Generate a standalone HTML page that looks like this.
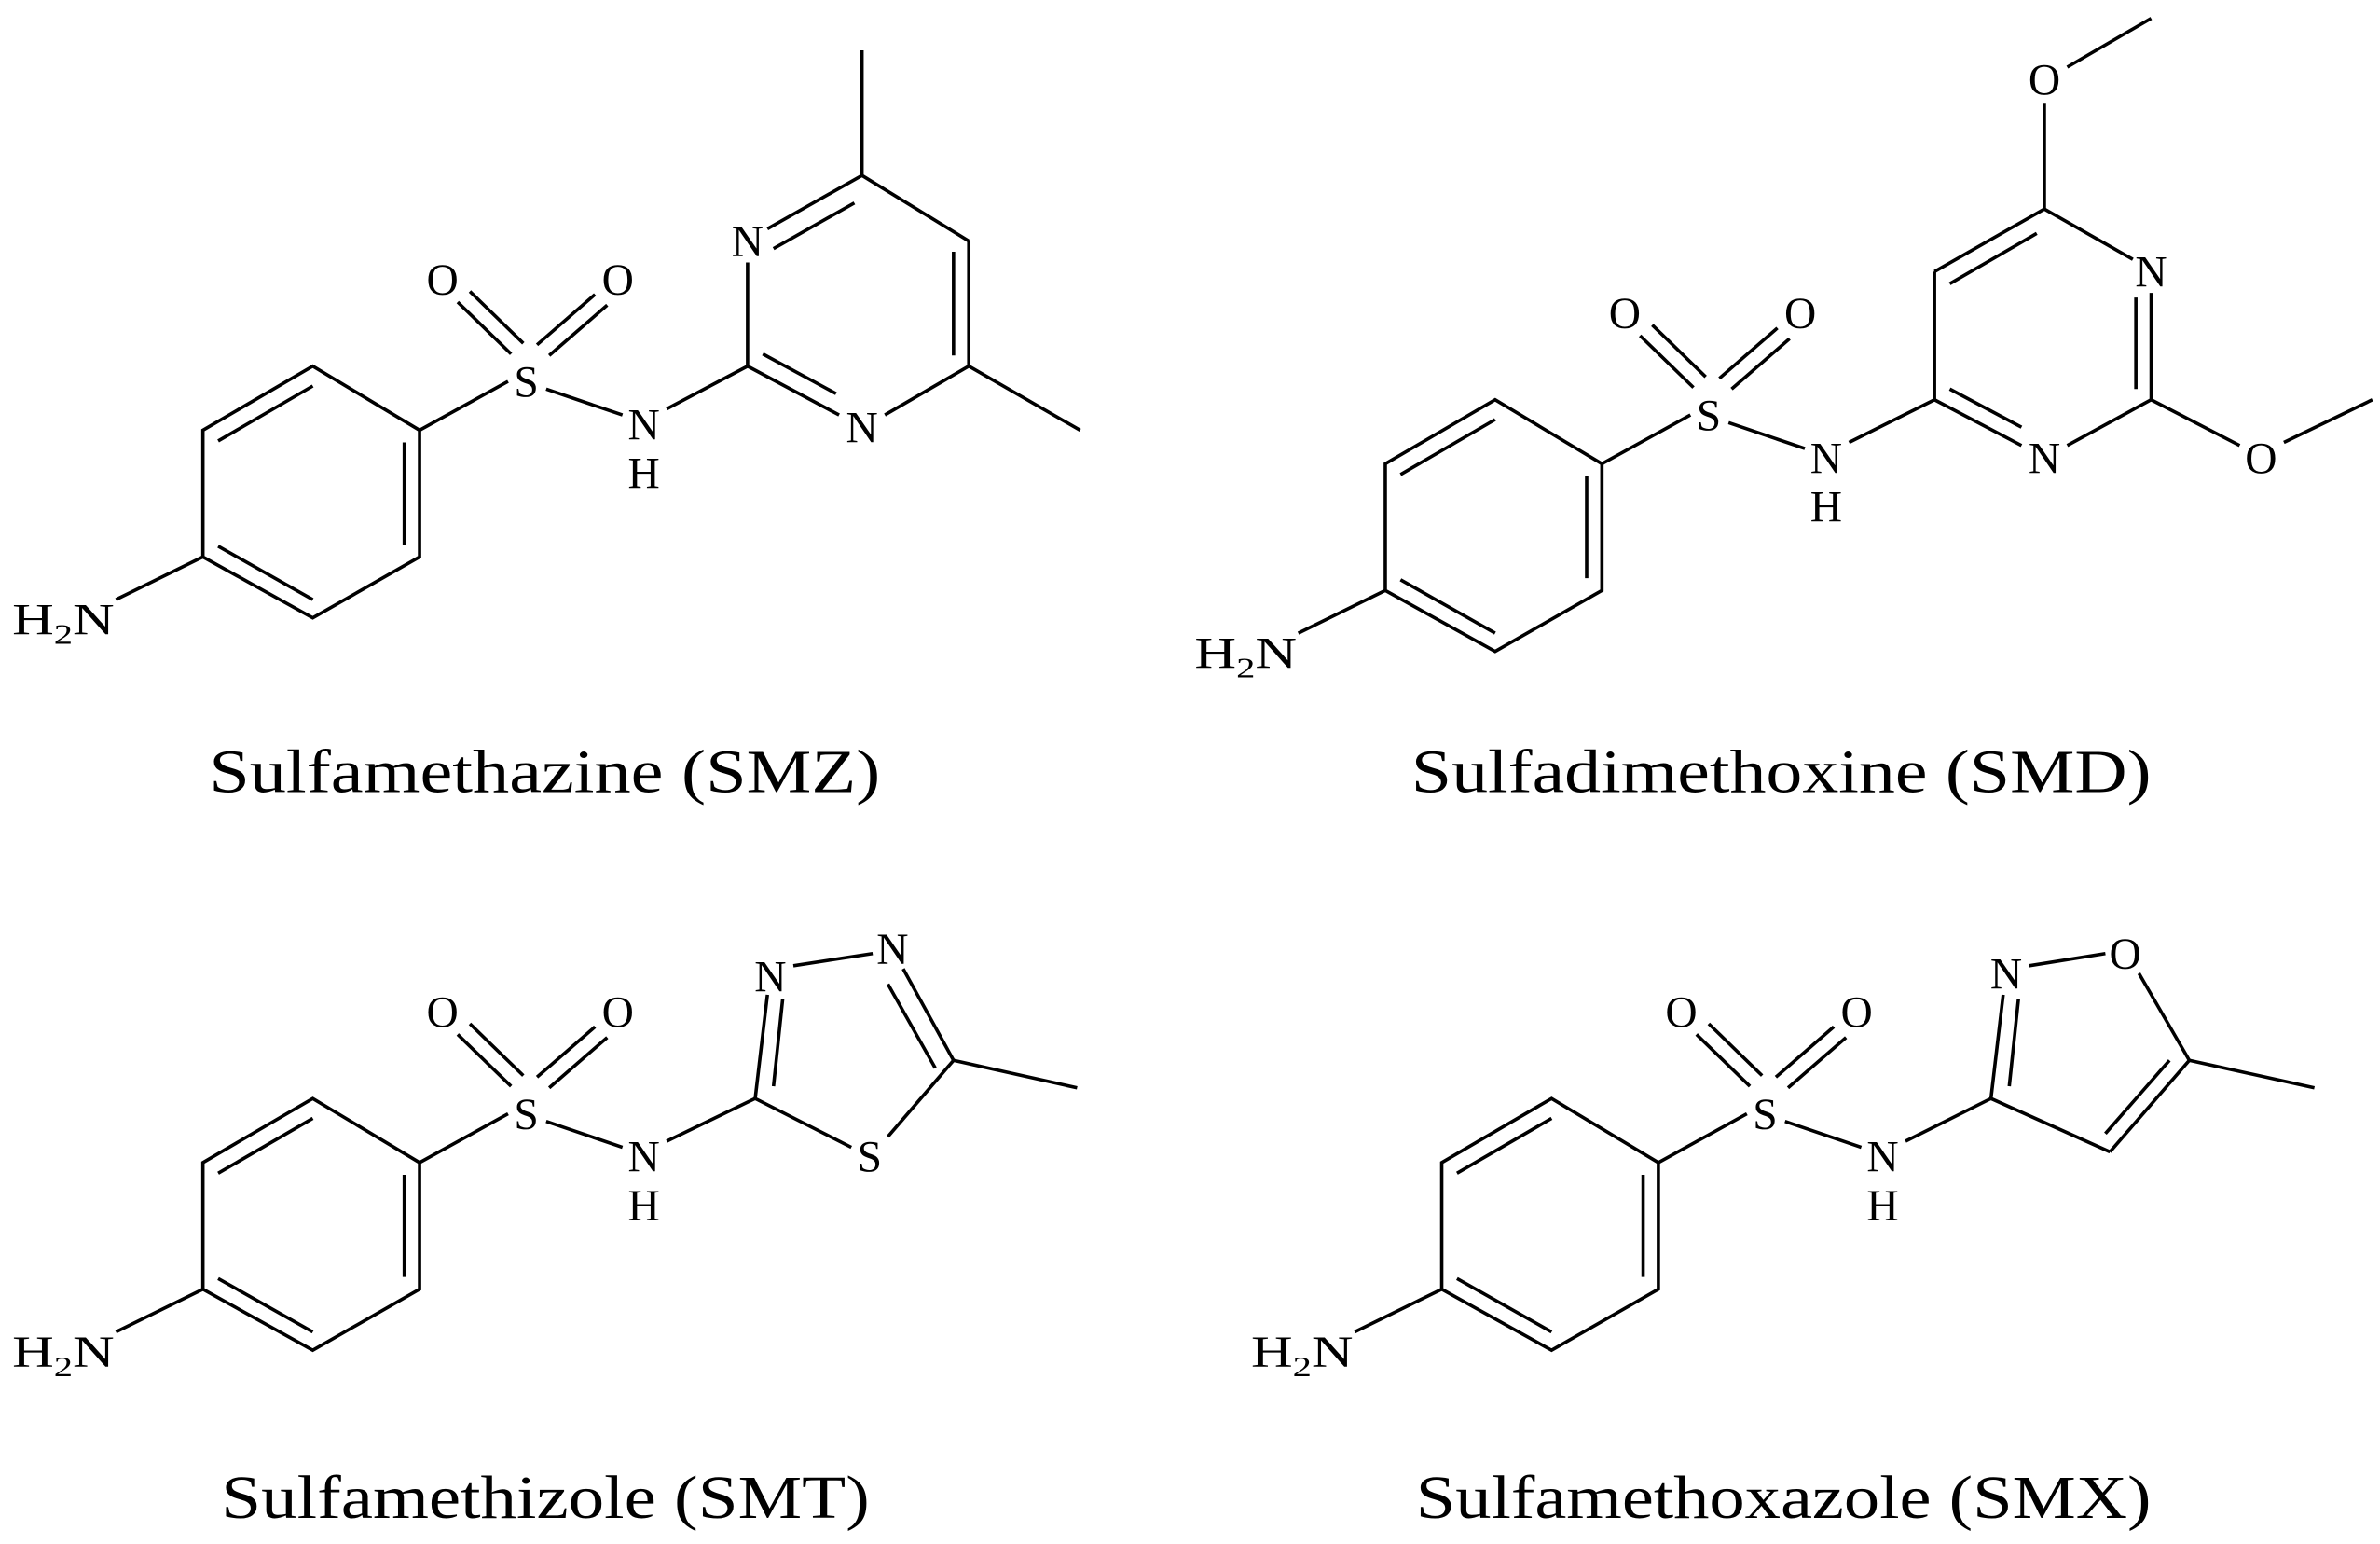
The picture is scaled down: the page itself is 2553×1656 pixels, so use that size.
<!DOCTYPE html>
<html><head><meta charset="utf-8"><style>
html,body{margin:0;padding:0;background:#fff;}
svg{display:block;}
text{font-family:"Liberation Serif",serif;fill:#000;}
</style></head><body>
<svg width="2553" height="1656" viewBox="0 0 1560 1012" preserveAspectRatio="none" xmlns="http://www.w3.org/2000/svg">
<g>
<g stroke="#000" stroke-width="2.2" fill="none">
<polygon points="133,282 205,240 275,282 275,365 205,405 133,365"/>
<line x1="143" y1="289" x2="205" y2="253"/><line x1="265" y1="290" x2="265" y2="357"/><line x1="143" y1="358" x2="205" y2="393"/>
<line x1="76" y1="393" x2="133" y2="365"/>
<line x1="275" y1="282" x2="333" y2="250"/>
<line x1="335" y1="232" x2="300" y2="198"/><line x1="343" y1="225" x2="308" y2="191"/>
<line x1="352" y1="226" x2="390" y2="193"/><line x1="360" y1="233" x2="398" y2="200"/>
<line x1="358" y1="255" x2="408" y2="272"/>
<line x1="437" y1="268" x2="490" y2="240"/>
</g>
<g font-size="29" text-anchor="middle">
<text x="345" y="260">S</text><text x="290" y="193">O</text><text x="405" y="193">O</text>
<text x="422" y="288">N</text><text x="422" y="320">H</text>
<text x="8" y="416" text-anchor="start" textLength="67" lengthAdjust="spacingAndGlyphs">H<tspan font-size="19" dy="6">2</tspan><tspan dy="-6">N</tspan></text>
</g>
</g>
<g transform="translate(775,22)">
<g stroke="#000" stroke-width="2.2" fill="none">
<polygon points="133,282 205,240 275,282 275,365 205,405 133,365"/>
<line x1="143" y1="289" x2="205" y2="253"/><line x1="265" y1="290" x2="265" y2="357"/><line x1="143" y1="358" x2="205" y2="393"/>
<line x1="76" y1="393" x2="133" y2="365"/>
<line x1="275" y1="282" x2="333" y2="250"/>
<line x1="335" y1="232" x2="300" y2="198"/><line x1="343" y1="225" x2="308" y2="191"/>
<line x1="352" y1="226" x2="390" y2="193"/><line x1="360" y1="233" x2="398" y2="200"/>
<line x1="358" y1="255" x2="408" y2="272"/>
<line x1="437" y1="268" x2="493" y2="240"/>
</g>
<g font-size="29" text-anchor="middle">
<text x="345" y="260">S</text><text x="290" y="193">O</text><text x="405" y="193">O</text>
<text x="422" y="288">N</text><text x="422" y="320">H</text>
<text x="8" y="416" text-anchor="start" textLength="67" lengthAdjust="spacingAndGlyphs">H<tspan font-size="19" dy="6">2</tspan><tspan dy="-6">N</tspan></text>
</g>
</g>
<g transform="translate(0,480)">
<g stroke="#000" stroke-width="2.2" fill="none">
<polygon points="133,282 205,240 275,282 275,365 205,405 133,365"/>
<line x1="143" y1="289" x2="205" y2="253"/><line x1="265" y1="290" x2="265" y2="357"/><line x1="143" y1="358" x2="205" y2="393"/>
<line x1="76" y1="393" x2="133" y2="365"/>
<line x1="275" y1="282" x2="333" y2="250"/>
<line x1="335" y1="232" x2="300" y2="198"/><line x1="343" y1="225" x2="308" y2="191"/>
<line x1="352" y1="226" x2="390" y2="193"/><line x1="360" y1="233" x2="398" y2="200"/>
<line x1="358" y1="255" x2="408" y2="272"/>
<line x1="437" y1="268" x2="495" y2="240"/>
</g>
<g font-size="29" text-anchor="middle">
<text x="345" y="260">S</text><text x="290" y="193">O</text><text x="405" y="193">O</text>
<text x="422" y="288">N</text><text x="422" y="320">H</text>
<text x="8" y="416" text-anchor="start" textLength="67" lengthAdjust="spacingAndGlyphs">H<tspan font-size="19" dy="6">2</tspan><tspan dy="-6">N</tspan></text>
</g>
</g>
<g transform="translate(812,480)">
<g stroke="#000" stroke-width="2.2" fill="none">
<polygon points="133,282 205,240 275,282 275,365 205,405 133,365"/>
<line x1="143" y1="289" x2="205" y2="253"/><line x1="265" y1="290" x2="265" y2="357"/><line x1="143" y1="358" x2="205" y2="393"/>
<line x1="76" y1="393" x2="133" y2="365"/>
<line x1="275" y1="282" x2="333" y2="250"/>
<line x1="335" y1="232" x2="300" y2="198"/><line x1="343" y1="225" x2="308" y2="191"/>
<line x1="352" y1="226" x2="390" y2="193"/><line x1="360" y1="233" x2="398" y2="200"/>
<line x1="358" y1="255" x2="408" y2="272"/>
<line x1="437" y1="268" x2="493" y2="240"/>
</g>
<g font-size="29" text-anchor="middle">
<text x="345" y="260">S</text><text x="290" y="193">O</text><text x="405" y="193">O</text>
<text x="422" y="288">N</text><text x="422" y="320">H</text>
<text x="8" y="416" text-anchor="start" textLength="67" lengthAdjust="spacingAndGlyphs">H<tspan font-size="19" dy="6">2</tspan><tspan dy="-6">N</tspan></text>
</g>
</g>

<g stroke="#000" stroke-width="2.2" fill="none">
<line x1="490" y1="240" x2="490" y2="172"/>
<line x1="503" y1="150" x2="565" y2="115"/><line x1="507" y1="163" x2="560" y2="133"/>
<line x1="565" y1="115" x2="635" y2="158"/>
<line x1="635" y1="158" x2="635" y2="240"/><line x1="625" y1="165" x2="625" y2="233"/>
<line x1="635" y1="240" x2="580" y2="272"/>
<line x1="550" y1="272" x2="490" y2="240"/><line x1="500" y1="232" x2="548" y2="258"/>
<line x1="565" y1="115" x2="565" y2="33"/><line x1="635" y1="240" x2="708" y2="282"/>
<line x1="1268" y1="262" x2="1268" y2="178"/>
<line x1="1268" y1="178" x2="1340" y2="137"/><line x1="1278" y1="186" x2="1335" y2="153"/>
<line x1="1340" y1="137" x2="1398" y2="170"/>
<line x1="1410" y1="192" x2="1410" y2="262"/><line x1="1400" y1="195" x2="1400" y2="255"/>
<line x1="1410" y1="262" x2="1355" y2="292"/>
<line x1="1325" y1="292" x2="1268" y2="262"/><line x1="1278" y1="255" x2="1325" y2="280"/>
<line x1="1340" y1="137" x2="1340" y2="68"/><line x1="1355" y1="44" x2="1410" y2="12"/>
<line x1="1410" y1="262" x2="1468" y2="292"/><line x1="1497" y1="290" x2="1555" y2="262"/>
<line x1="495" y1="720" x2="503" y2="652"/><line x1="507" y1="712" x2="513" y2="655"/>
<line x1="520" y1="633" x2="572" y2="625"/>
<line x1="592" y1="635" x2="625" y2="695"/><line x1="582" y1="645" x2="613" y2="700"/>
<line x1="625" y1="695" x2="582" y2="745"/>
<line x1="558" y1="752" x2="495" y2="720"/>
<line x1="625" y1="695" x2="706" y2="713"/>
<line x1="1305" y1="720" x2="1313" y2="652"/><line x1="1317" y1="712" x2="1323" y2="655"/>
<line x1="1330" y1="633" x2="1380" y2="625"/>
<line x1="1402" y1="638" x2="1435" y2="695"/>
<line x1="1435" y1="695" x2="1383" y2="755"/><line x1="1422" y1="695" x2="1380" y2="743"/>
<line x1="1383" y1="755" x2="1305" y2="720"/>
<line x1="1435" y1="695" x2="1517" y2="713"/>
</g>
<g font-size="29" text-anchor="middle">
<text x="490" y="168">N</text><text x="565" y="290">N</text>
<text x="1410" y="188">N</text><text x="1340" y="310">N</text>
<text x="1340" y="62">O</text><text x="1482" y="310">O</text>
<text x="505" y="650">N</text><text x="585" y="632">N</text><text x="570" y="768">S</text>
<text x="1315" y="648">N</text><text x="1393" y="635">O</text>
</g>
<g font-size="40">
<text x="137" y="519" textLength="440" lengthAdjust="spacingAndGlyphs">Sulfamethazine (SMZ)</text>
<text x="925" y="519" textLength="485" lengthAdjust="spacingAndGlyphs">Sulfadimethoxine (SMD)</text>
<text x="145" y="995" textLength="425" lengthAdjust="spacingAndGlyphs">Sulfamethizole (SMT)</text>
<text x="928" y="995" textLength="482" lengthAdjust="spacingAndGlyphs">Sulfamethoxazole (SMX)</text>
</g>
</svg>
</body></html>
